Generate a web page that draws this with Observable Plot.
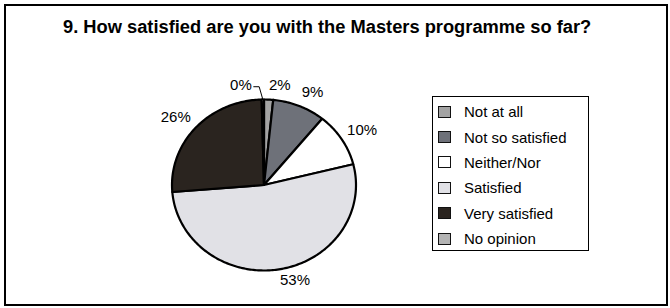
<!DOCTYPE html>
<html>
<head>
<meta charset="utf-8">
<script src="https://cdn.jsdelivr.net/npm/d3@7"></script>
<script src="https://cdn.jsdelivr.net/npm/@observablehq/plot@0.6"></script>
<style>
  html, body { margin: 0; padding: 0; background: #fff; }
  #wrap { position: relative; width: 670px; height: 308px; overflow: hidden; font-family: "Liberation Sans", Arial, sans-serif; }
  #frame { position: absolute; left: 4px; top: 4px; width: 664px; height: 302px; box-sizing: border-box; border: 2px solid #000; }
  #title { position: absolute; left: 63px; top: 17.8px; font-weight: bold; font-size: 18.3px; line-height: 18.3px; white-space: nowrap; color: #000; }
  #chart { position: absolute; left: 0; top: 0; }
  #legend { position: absolute; left: 432px; top: 96px; width: 157px; height: 155px; box-sizing: border-box; border: 1px solid #000; padding: 2px 0 0 5px; }
  .row { display: flex; align-items: center; height: 25.4px; }
  .sw { width: 13px; height: 12px; box-sizing: border-box; border: 1.5px solid #111; flex: none; }
  .lab { margin-left: 13px; font-size: 15px; color: #000; white-space: nowrap; }
</style>
</head>
<body>
<div id="wrap">
  <div id="frame"></div>
  <div id="chart"></div>
  <div id="title">9. How satisfied are you with the Masters programme so far?</div>
  <div id="legend"></div>
</div>
<script>
// ---- data ----
const categories = ["Not at all", "Not so satisfied", "Neither/Nor", "Satisfied", "Very satisfied", "No opinion"];
const shares = [1.6, 9.3, 10.2, 52.6, 25.9, 0.4];           // percent of responses
const percentLabels = ["2%", "9%", "10%", "53%", "26%", "0%"];
const colors = ["#a3a3a3", "#6e7179", "#ffffff", "#e1e1e6", "#2a241f", "#b3b3b3"];

// ---- layout ----
const W = 670, H = 308;
const cx = 263.5, cy = 184.5, rx = 92, ry = 85.5;

// build slice polygons in unit-circle space (y up), clockwise from 12 o'clock
const total = d3.sum(shares);
let acc = 0;
const pts = [];
const labelRows = [];
const leaders = [];
categories.forEach((cat, i) => {
  const a0 = acc / total * 2 * Math.PI;
  acc += shares[i];
  const a1 = acc / total * 2 * Math.PI;
  const n = Math.max(2, Math.ceil((a1 - a0) / (Math.PI / 180)));
  pts.push({cat, x: 0, y: 0});
  for (let k = 0; k <= n; k++) {
    const a = a0 + (a1 - a0) * k / n;
    pts.push({cat, x: Math.sin(a), y: Math.cos(a)});
  }
  pts.push({cat, x: 0, y: 0});
  const m = (a0 + a1) / 2;
  const s = Math.sin(m), c = Math.cos(m);
  const small = shares[i] < 1;
  const lx = s * 1.07 - (small ? 0.12 : 0);
  const ly = c * (1.05 + 7 / ry) + (c > 0 ? 3 / ry : 0);
  labelRows.push({text: percentLabels[i], x: lx, y: ly, side: s >= 0 && !small ? "start" : "end"});
  if (small) {
    leaders.push({id: i, x: lx + 0.022, y: ly - 1.5 / ry});
    leaders.push({id: i, x: s - 0.04, y: ly - 1.5 / ry});
    leaders.push({id: i, x: s, y: c});
  }
});

const plot = Plot.plot({
  width: W,
  height: H,
  margin: 0,
  x: {domain: [-cx / rx, (W - cx) / rx], range: [0, W], axis: null},
  y: {domain: [-(H - cy) / ry, cy / ry], range: [H, 0], axis: null},
  color: {domain: categories, range: colors},
  style: {background: "transparent", overflow: "visible"},
  marks: [
    Plot.line(pts, {x: "x", y: "y", z: "cat", fill: "cat", stroke: "#000", strokeWidth: 2.2, strokeLinejoin: "round"}),
    Plot.line(leaders, {x: "x", y: "y", z: "id", stroke: "#000", strokeWidth: 1}),
    Plot.text(labelRows.filter(d => d.side === "start"), {x: "x", y: "y", text: "text", textAnchor: "start", fontSize: 15, fontFamily: "Liberation Sans, Arial, sans-serif", fill: "#000"}),
    Plot.text(labelRows.filter(d => d.side === "end"), {x: "x", y: "y", text: "text", textAnchor: "end", fontSize: 15, fontFamily: "Liberation Sans, Arial, sans-serif", fill: "#000"})
  ]
});
document.getElementById("chart").appendChild(plot);

// legend
const legend = document.getElementById("legend");
categories.forEach((cat, i) => {
  const row = document.createElement("div");
  row.className = "row";
  const sw = document.createElement("div");
  sw.className = "sw";
  sw.style.background = colors[i];
  const lab = document.createElement("div");
  lab.className = "lab";
  lab.textContent = cat;
  row.appendChild(sw);
  row.appendChild(lab);
  legend.appendChild(row);
});
</script>
</body>
</html>
